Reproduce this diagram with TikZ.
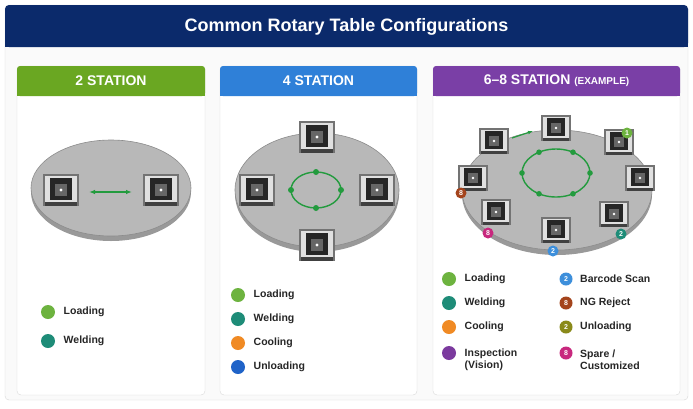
\documentclass[tikz,border=0pt]{standalone}
\usepackage{fontspec}
\setmainfont{Liberation Sans}
\usetikzlibrary{arrows.meta}
\definecolor{navy}{HTML}{0B2A6B}
\definecolor{hgreen}{HTML}{6AA722}
\definecolor{hblue}{HTML}{2F80D8}
\definecolor{hpurple}{HTML}{7A3FA6}
\definecolor{cload}{HTML}{6DB33F}
\definecolor{cweld}{HTML}{1E8C78}
\definecolor{ccool}{HTML}{F08A24}
\definecolor{cunload}{HTML}{1F63C8}
\definecolor{cinsp}{HTML}{7B3A9E}
\definecolor{cscan}{HTML}{3D8FDB}
\definecolor{cng}{HTML}{A4441C}
\definecolor{cuntwo}{HTML}{8A8A1A}
\definecolor{cspare}{HTML}{C8287E}
\definecolor{arrowgreen}{HTML}{239B3E}
\tikzset{
  panel/.style={draw=black!15, fill=white, rounded corners=4pt},
  header/.style={text=white, font=\bfseries\fontsize{14}{14}\selectfont},
  disk/.style={fill=black!28, draw=black!45, line width=0.6pt},
  dot/.style={circle, inner sep=0pt, minimum size=14pt},
  badge/.style={circle, inner sep=0pt, minimum size=11pt, text=white, font=\bfseries\fontsize{7}{7}\selectfont},
  legend/.style={anchor=west, font=\bfseries\fontsize{10.5}{12}\selectfont, text=black!85, align=left},
  rot/.style={arrowgreen, line width=1.4pt},
  pics/station/.style={code={
    \fill[black!55] (-18,-16) rectangle (18,16);
    \fill[black!12] (-16,-14) rectangle (16,12);
    \fill[black!85] (-11,-12) rectangle (11,10);
    \fill[black!60] (-6,-6) rectangle (6,6);
    \fill[white] (0,0) circle (1.6);
    \fill[black!75] (-16,12) rectangle (16,16);
  }}
}
\begin{document}
\begin{tikzpicture}[x=1pt,y=-1pt]
\useasboundingbox (0,0) rectangle (693,408);
\fill[white] (0,0) rectangle (693,408);
% outer frame and title
\draw[panel, fill=black!2] (5,5) rectangle (688,400);
\fill[navy, rounded corners=4pt] (5,5) rectangle (688,47);
\fill[navy] (5,30) rectangle (688,47);
\node[text=white, font=\bfseries\fontsize{18}{18}\selectfont] (title) at (346.5,27) {Common Rotary Table Configurations};

% panels
\draw[panel] (17,66) rectangle (205,395);
\fill[hgreen, rounded corners=3pt] (17,66) rectangle (205,96);
\fill[hgreen] (17,85) rectangle (205,96);
\node[header] (h2) at (111,81) {2 STATION};

\draw[panel] (220,66) rectangle (417,395);
\fill[hblue, rounded corners=3pt] (220,66) rectangle (417,96);
\fill[hblue] (220,85) rectangle (417,96);
\node[header] (h4) at (318.5,81) {4 STATION};

\draw[panel] (433,66) rectangle (680,395);
\fill[hpurple, rounded corners=3pt] (433,66) rectangle (680,96);
\fill[hpurple] (433,85) rectangle (680,96);
\node[header] (h6) at (556.5,81) {6--8 STATION {\fontsize{10}{10}\selectfont(EXAMPLE)}};

% 2 station
\fill[black!40] (111,192) ellipse (80 and 49);
\draw[disk] (111,188) ellipse (80 and 48);
\pic at (61,190) {station};
\pic at (161,190) {station};
\coordinate (a2) at (89,192);
\coordinate (b2) at (132,192);
\draw[rot, {Latex[length=6pt]}-{Latex[length=6pt]}] (a2) -- (b2);

% 4 station
\fill[black!40] (317,194) ellipse (82 and 58);
\draw[disk] (317,190) ellipse (82 and 57);
\pic at (317,137) {station};
\pic at (257,190) {station};
\pic at (377,190) {station};
\pic at (317,245) {station};
\draw[rot] (316,190) ellipse (25 and 18);
\foreach \a in {0,90,180,270}
  \fill[arrowgreen] ({316+25*cos(\a)},{190+18*sin(\a)}) circle (3);

% 6-8 station
\fill[black!40] (557,194) ellipse (95 and 61);
\draw[disk] (557,190) ellipse (95 and 60);
\foreach \x/\y in {556/128, 494/141, 619/142, 473/178, 640/178, 496/212, 614/214, 556/230}
  \pic[scale=0.82] at (\x,\y) {station};
\draw[rot] (556,173) ellipse (34 and 24);
\foreach \a in {0,60,120,180,240,300}
  \fill[arrowgreen] ({556+34*cos(\a)},{173+24*sin(\a)}) circle (2.8);
\coordinate (a6) at (512,138);
\coordinate (b6) at (533,131);
\draw[rot, line width=1.2pt, -{Latex[length=5pt]}] (a6) -- (b6);
\node[badge, fill=cload] (s1) at (627,133) {1};
\node[badge, fill=cng] (s2) at (461,193) {8};
\node[badge, fill=cspare] (s3) at (488,233) {8};
\node[badge, fill=cscan] (s4) at (553,251) {2};
\node[badge, fill=cweld] (s5) at (621,234) {2};

% legends
\node[dot, fill=cload] (l21) at (48,312) {};
\node[legend] at ([xshift=5pt]l21.east) {Loading};
\node[dot, fill=cweld] (l22) at (48,341) {};
\node[legend] at ([xshift=5pt]l22.east) {Welding};

\node[dot, fill=cload] (l41) at (238,295) {};
\node[legend] at ([xshift=5pt]l41.east) {Loading};
\node[dot, fill=cweld] (l42) at (238,319) {};
\node[legend] at ([xshift=5pt]l42.east) {Welding};
\node[dot, fill=ccool] (l43) at (238,343) {};
\node[legend] at ([xshift=5pt]l43.east) {Cooling};
\node[dot, fill=cunload] (l44) at (238,367) {};
\node[legend] at ([xshift=5pt]l44.east) {Unloading};

\node[dot, fill=cload] (l61) at (449,279) {};
\node[legend] at ([xshift=5pt]l61.east) {Loading};
\node[dot, fill=cweld] (l62) at (449,303) {};
\node[legend] at ([xshift=5pt]l62.east) {Welding};
\node[dot, fill=ccool] (l63) at (449,327) {};
\node[legend] at ([xshift=5pt]l63.east) {Cooling};
\node[dot, fill=cinsp] (l64) at (449,353) {};
\node[legend] at ([xshift=5pt,yshift=-7pt]l64.east) {Inspection\\(Vision)};

\node[badge, minimum size=13pt, fill=cscan] (l65) at (566,279) {2};
\node[legend] at ([xshift=4pt]l65.east) {Barcode Scan};
\node[badge, minimum size=13pt, fill=cng] (l66) at (566,303) {8};
\node[legend] at ([xshift=4pt]l66.east) {NG Reject};
\node[badge, minimum size=13pt, fill=cuntwo] (l67) at (566,327) {2};
\node[legend] at ([xshift=4pt]l67.east) {Unloading};
\node[badge, minimum size=13pt, fill=cspare] (l68) at (566,353) {8};
\node[legend] at ([xshift=4pt,yshift=-7pt]l68.east) {Spare /\\Customized};
\end{tikzpicture}
\end{document}
